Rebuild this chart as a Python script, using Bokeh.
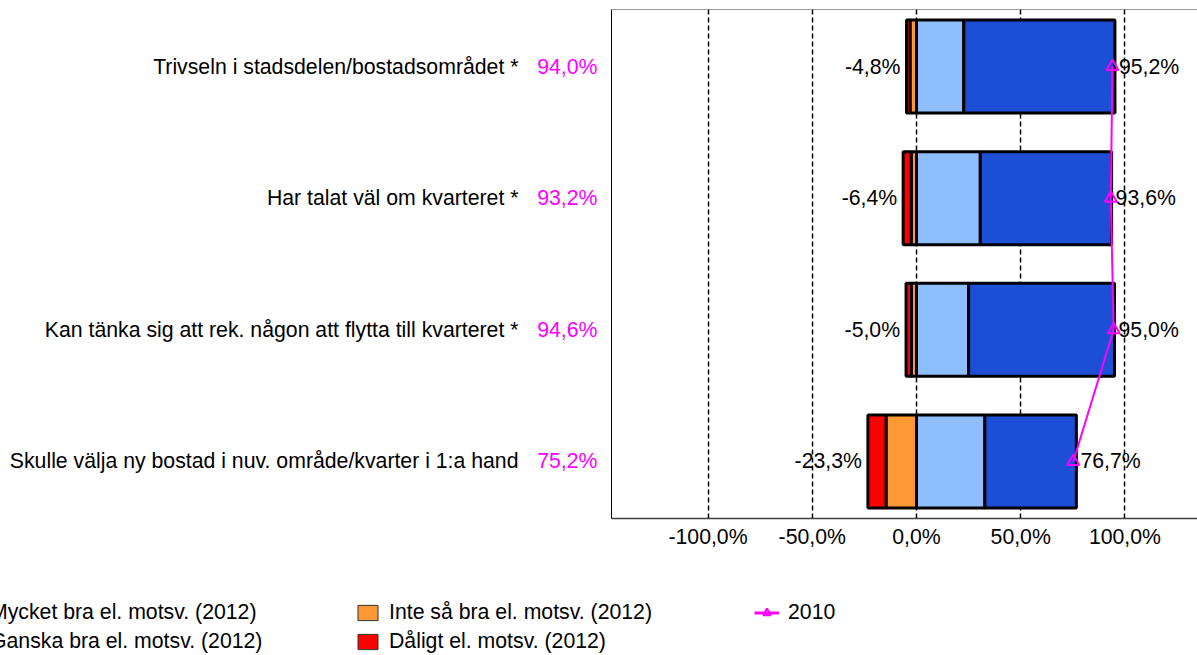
from bokeh.plotting import figure
from bokeh.layouts import column
from bokeh.models import Range1d, FixedTicker, LinearAxis, Legend, LegendItem, Span, ColumnDataSource
from bokeh.core.properties import value
from bokeh.embed import file_html
from bokeh.resources import INLINE

categories = [
    "Trivseln i stadsdelen/bostadsområdet *",
    "Har talat väl om kvarteret *",
    "Kan tänka sig att rek. någon att flytta till kvarteret *",
    "Skulle välja ny bostad i nuv. område/kvarter i 1:a hand",
]
mycket = [72.5, 63.0, 70.0, 43.9]
ganska = [22.7, 30.6, 25.0, 32.8]
inte = [3.1, 2.5, 2.4, 14.6]
daligt = [1.7, 3.9, 2.6, 8.7]
y2010 = [94.0, 93.2, 94.6, 75.2]
x_ticks = [-100, -50, 0, 50, 100]

series_labels = [
    "Mycket bra el. motsv. (2012)",
    "Ganska bra el. motsv. (2012)",
    "Inte så bra el. motsv. (2012)",
    "Dåligt el. motsv. (2012)",
    "2010",
]

FONT = "Liberation Sans"
FS = "21.25px"
C_DARK = "#1C4FD6"
C_LIGHT = "#8FBEFF"
C_ORANGE = "#FF9933"
C_RED = "#FF0000"
C_MAG = "#FF00FF"


def pct(v):
    return f"{v:.1f}".replace(".", ",") + "%"


n = len(categories)
ys = list(range(1, n + 1))
pos_total = [m + g for m, g in zip(mycket, ganska)]
neg_total = [i + d for i, d in zip(inte, daligt)]

p = figure(width=1197, height=560, output_backend="svg", toolbar_location=None,
           x_range=Range1d(-146.3, 134.8), y_range=Range1d(n + 0.433, 0.567),
           min_border_left=611, min_border_right=0, min_border_top=9, min_border_bottom=42,
           frame_align=False)
p.outline_line_color = None
p.ygrid.visible = False
p.background_fill_color = "white"

p.xgrid.ticker = FixedTicker(ticks=x_ticks)
p.xgrid.grid_line_color = "black"
p.xgrid.grid_line_dash = "5 3"
p.xgrid.grid_line_width = 1.5

src = ColumnDataSource(dict(
    y=ys,
    g_l=[0.0] * n, g_r=ganska,
    m_l=ganska, m_r=pos_total,
    i_l=[-v for v in inte], i_r=[0.0] * n,
    d_l=[-v for v in neg_total], d_r=[-v for v in inte],
))
BH = 0.706
for lft, rgt, col in [("g_l", "g_r", C_LIGHT), ("m_l", "m_r", C_DARK),
                      ("i_l", "i_r", C_ORANGE), ("d_l", "d_r", C_RED)]:
    p.hbar(y="y", left=lft, right=rgt, height=BH, source=src,
           fill_color=col, line_color="black", line_width=3)

# value labels
p.text(x=[-v for v in neg_total], y=ys, text=[pct(-v) for v in neg_total],
       text_align="right", text_baseline="middle", x_offset=-6,
       text_font=value(FONT), text_font_size=FS, text_color="black")
p.text(x=pos_total, y=ys, text=[pct(v) for v in pos_total],
       text_align="left", text_baseline="middle", x_offset=4,
       text_font=value(FONT), text_font_size=FS, text_color="black")

# 2010 line
p.line(x=y2010, y=ys, line_color=C_MAG, line_width=2)
p.scatter(x=y2010, y=ys, marker="triangle", size=12, line_color=C_MAG,
          fill_color=None, line_width=2)

# axes
xa = p.xaxis[0]
xa.ticker = FixedTicker(ticks=x_ticks)
xa.major_label_overrides = {t: pct(t) for t in x_ticks}
xa.axis_line_color = "#404040"
xa.axis_line_width = 1.5
xa.major_tick_out = 0
xa.major_tick_in = 0
xa.minor_tick_out = 0
xa.minor_tick_in = 0
xa.major_label_standoff = 6
xa.major_label_text_font = FONT
xa.major_label_text_font_size = FS
xa.major_label_text_color = "black"

ya = p.yaxis[0]
ya.ticker = FixedTicker(ticks=ys)
ya.major_label_overrides = {y: pct(v) for y, v in zip(ys, y2010)}
ya.axis_line_color = "black"
ya.major_tick_out = 0
ya.major_tick_in = 0
ya.minor_tick_out = 0
ya.minor_tick_in = 0
ya.major_label_standoff = 14
ya.major_label_text_font = FONT
ya.major_label_text_font_size = FS
ya.major_label_text_color = C_MAG

ya2 = LinearAxis(ticker=FixedTicker(ticks=ys),
                 major_label_overrides={y: c for y, c in zip(ys, categories)})
ya2.axis_line_color = None
ya2.major_tick_out = 0
ya2.major_tick_in = 0
ya2.minor_tick_out = 0
ya2.minor_tick_in = 0
ya2.major_label_standoff = 16
ya2.major_label_text_font = FONT
ya2.major_label_text_font_size = FS
ya2.major_label_text_color = "black"
p.add_layout(ya2, "left")

p.add_layout(Span(location=0.567, dimension="width", line_color="#333333", line_width=1))

# legend in a separate strip below the chart (proxy renderers lie outside its view)
q = figure(width=1197, height=95, output_backend="svg", toolbar_location=None,
           x_range=Range1d(0, 1), y_range=Range1d(0, 1),
           x_axis_location=None, y_axis_location=None,
           min_border_left=0, min_border_right=0, min_border_top=0, min_border_bottom=0,
           frame_align=False)
q.outline_line_color = None
q.grid.visible = False

sw = []
for col in [C_DARK, C_LIGHT, C_ORANGE, C_RED]:
    sw.append(q.hbar(y=[-5], left=[0], right=[1], height=1, fill_color=col,
                     line_color="#333333", line_width=1))
lg_line = q.line(x=[0, 1], y=[-5, -5], line_color=C_MAG, line_width=3)
lg_mark = q.scatter(x=[0.5], y=[-5], marker="triangle", size=12, line_color=C_MAG,
                    fill_color=None, line_width=2)

items = [LegendItem(label=series_labels[i], renderers=[sw[i]]) for i in range(4)]
items.append(LegendItem(label=series_labels[4], renderers=[lg_line, lg_mark]))
legend = Legend(items=items, location=(-44, 1), orientation="vertical", nrows=2,
                glyph_width=25, glyph_height=19, label_standoff=9, spacing=4,
                label_width=361, padding=0, margin=0, border_line_color=None,
                background_fill_alpha=0, label_text_font=FONT, label_text_font_size=FS,
                label_text_color="black")
q.add_layout(legend)

layout = column(p, q, spacing=0)
open("out.html", "w").write(file_html(layout, INLINE))
